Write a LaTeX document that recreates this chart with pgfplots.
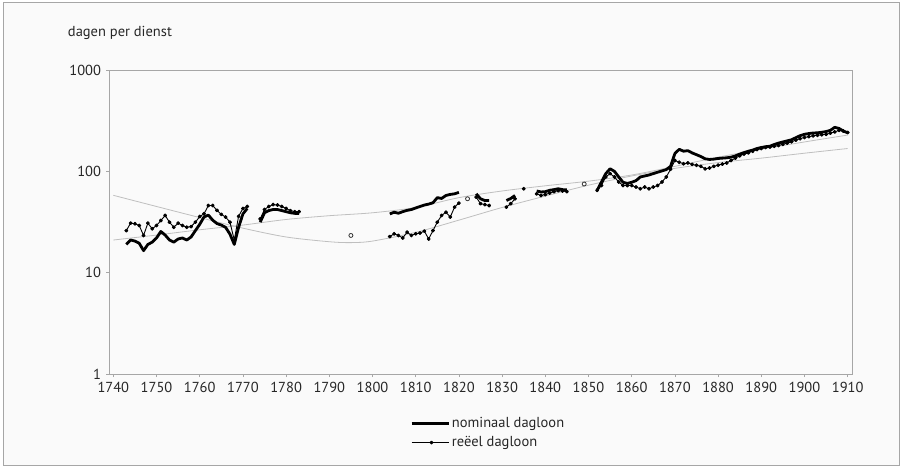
\documentclass[border=0pt]{standalone}
\usepackage{fontspec}
\setmainfont{PT Sans}
\usepackage{pgfplots}
\pgfplotsset{compat=1.18}
\usepackage{pgfplotstable}

\pgfplotstableread{
year val
1743 19
1744 21
1745 20.5
1746 19.5
1747 16.5
1748 19
1749 20
1750 22
1751 25.5
1752 23.5
1753 21
1754 20
1755 21.5
1756 22
1757 21
1758 22.5
1759 26
1760 30
1761 35.5
1762 37
1763 33
1764 30.5
1765 29.5
1766 28
1767 24
1768 19
1769 28
1770 38
1771 43
1772 nan
1774 31.5
1775 39
1776 41
1777 42
1778 42
1779 41
1780 40
1781 39
1782 38.5
1783 38.5
1790 nan
1804 38
1805 39.5
1806 38.6
1807 40
1808 41.2
1809 42
1810 43.5
1811 45
1812 46.5
1813 47.5
1814 49
1815 55
1816 54
1817 57.8
1818 59.2
1819 60
1820 62
1822 nan
1824 60
1825 53.6
1826 51.5
1827 51.5
1829 nan
1831 51.5
1832 54
1833 57.8
1836 nan
1838 64
1839 62.6
1840 63
1841 65
1842 66
1843 67.3
1844 66
1845 65.6
1848 nan
1852 65
1853 78.5
1854 95
1855 106
1856 100
1857 88
1858 78
1859 76
1860 78
1861 81
1862 88
1863 90
1864 92
1865 95
1866 98
1867 101
1868 104
1869 112
1870 150
1871 165
1872 158
1873 160
1874 152
1875 146
1876 140
1877 133
1878 131
1879 132
1880 134
1881 135
1882 136
1883 138
1884 142
1885 148
1886 153
1887 158
1888 162
1889 168
1890 172
1891 175
1892 177
1893 184
1894 190
1895 195
1896 200
1897 205
1898 215
1899 225
1900 232
1901 236
1902 239
1903 240
1904 243
1905 247
1906 254
1907 272
1908 265
1909 250
1910 240
}\nominal

\pgfplotstableread{
year val
1743 26
1744 30.8
1745 30.4
1746 29.2
1747 23.3
1748 30.8
1749 27.1
1750 29.2
1751 32.7
1752 36.7
1753 31.5
1754 28.1
1755 30.8
1756 29.2
1757 28.1
1758 28.5
1759 31.5
1760 35.8
1761 38.1
1762 46
1763 46
1764 41.2
1765 37.6
1766 35.4
1767 31.5
1768 21
1769 36
1770 43
1771 45
1772 nan
1774 34
1775 42
1776 45
1777 47
1778 46.5
1779 45
1780 43
1781 41
1782 40
1783 40
1790 nan
1804 22.7
1805 24.2
1806 23.3
1807 22
1808 25.1
1809 23.3
1810 24.2
1811 24.6
1812 25.7
1813 21.5
1814 26
1815 31.5
1816 36.7
1817 39.5
1818 35.4
1819 44.4
1820 48.6
1821 nan
1824 55.7
1825 48
1826 47
1827 46
1829 nan
1831 44.4
1832 48
1833 53.6
1834 nan
1835 67.3
1836 nan
1838 60
1839 57.8
1840 59
1841 61
1842 63
1843 64.5
1844 64
1845 63
1847 nan
1852 65
1853 72.5
1854 88
1855 95
1856 88
1857 78.5
1858 72.5
1859 72.5
1860 72.5
1861 70
1862 67.3
1863 70
1864 67.3
1865 70
1866 72.5
1867 78.5
1868 88
1869 105
1870 128
1871 123
1872 119
1873 121
1874 117
1875 115
1876 112
1877 106
1878 108
1879 112
1880 115
1881 118
1882 121
1883 128
1884 135
1885 142
1886 148
1887 152
1888 158
1889 164
1890 168
1891 172
1892 174
1893 177
1894 180
1895 185
1896 190
1897 196
1898 203
1899 210
1900 216
1901 220
1902 224
1903 227
1904 230
1905 232
1906 238
1907 245
1908 254
1909 250
1910 242
}\reeel

\pgfplotstableread{
year val
1795 23.3
1822 53.6
1849 75
}\reeelsingle

\pgfplotstableread{
year val
1740 58
1750 45
1760 35
1770 27.5
1780 22.5
1790 20.2
1795 19.8
1800 20.5
1810 25
1820 33
1830 44
1840 57
1850 73
1860 90
1870 107
1880 122
1890 135
1900 151
1910 168
}\trendreeel

\pgfplotstableread{
year val
1740 21
1750 23.5
1760 26.5
1770 29.5
1780 33.5
1790 36.5
1800 39
1810 44
1820 55
1830 64
1840 72
1850 80
1860 92
1870 112
1880 138
1890 165
1900 195
1910 228
}\trendnominal

\begin{document}
\fontsize{14.5}{17}\selectfont
\begin{tikzpicture}
\useasboundingbox (0,0) rectangle (902pt,467pt);
\draw[gray!70, line width=0.8pt, fill=black!2] (3pt,2pt) rectangle (899pt,465pt);
\begin{axis}[
  at={(109pt,93pt)}, anchor=south west,
  width=743pt, height=304pt, scale only axis,
  ymode=log, xmin=1739, xmax=1911, ymin=1, ymax=1000,
  xtick={1740,1750,...,1910},
  ytick={1,10,100,1000}, yticklabels={1,10,100,1000},
  yminorticks=false,
  /pgf/number format/assume math mode=true,
  /pgf/number format/1000 sep={},
  tick align=outside, major tick length=3pt,
  tick style={gray!70, line width=0.6pt},
  axis line style={gray!70, line width=0.8pt},
  tick label style={black!85},
  xtick pos=bottom, ytick pos=left,
  ylabel={dagen per dienst},
  ylabel style={at={(axis description cs:-0.062,1.122)}, rotate=-90, anchor=west, black!85},
  unbounded coords=jump,
  legend style={draw=none, fill=none, at={(axis description cs:0.405,-0.134)}, anchor=north west,
    inner sep=0pt, row sep=3pt, text=black!85},
  legend cell align=left,
  legend image code/.code={\draw[mark repeat=2,mark phase=2,#1] plot coordinates {(0pt,0pt) (20pt,0pt) (37pt,0pt)};},
]
\addplot[gray!50, line width=0.8pt, smooth, forget plot] table[x=year,y=val] {\trendreeel};
\addplot[gray!50, line width=0.8pt, smooth, forget plot] table[x=year,y=val] {\trendnominal};
\addplot[black, line width=2.8pt, line join=round] table[x=year,y=val] {\nominal};
\addlegendentry{nominaal dagloon}
\addplot[black, line width=0.9pt, line join=round, mark=*, mark size=1.5pt] table[x=year,y=val] {\reeel};
\addlegendentry{reëel dagloon}
\addplot[only marks, mark=*, mark size=2pt, mark options={draw=black!80, fill=white, line width=0.8pt}, forget plot] table[x=year,y=val] {\reeelsingle};
\end{axis}
\end{tikzpicture}
\end{document}
